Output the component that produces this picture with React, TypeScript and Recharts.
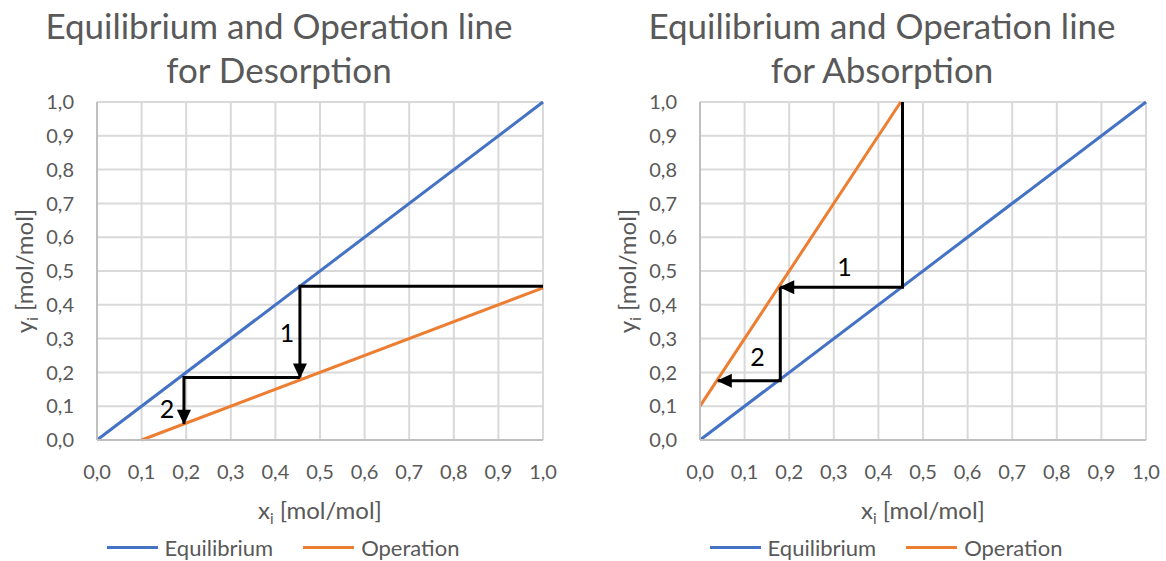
import {
  LineChart,
  Line,
  XAxis,
  YAxis,
  CartesianGrid,
  Legend,
  ReferenceDot,
} from "recharts";

// axis ticks shared by both diagrams (mole fractions)
const AXIS_TICKS = [0, 0.1, 0.2, 0.3, 0.4, 0.5, 0.6, 0.7, 0.8, 0.9, 1.0];

// equilibrium line y = x
const EQUILIBRIUM_X = [0, 1.0];
const EQUILIBRIUM_Y = [0, 1.0];

// desorption: operation line and the two stages
const DESORPTION_OP_X = [0.1, 1.0];
const DESORPTION_OP_Y = [0, 0.45];
const DESORPTION_STAGE1_X = [1.0, 0.455, 0.455];
const DESORPTION_STAGE1_Y = [0.455, 0.455, 0.185];
const DESORPTION_STAGE2_X = [0.455, 0.195, 0.195];
const DESORPTION_STAGE2_Y = [0.185, 0.185, 0.048];

// absorption: operation line and the two stages
const ABSORPTION_OP_X = [0, 0.45];
const ABSORPTION_OP_Y = [0.1, 1.0];
const ABSORPTION_STAGE1_X = [0.454, 0.454, 0.18];
const ABSORPTION_STAGE1_Y = [1.0, 0.452, 0.452];
const ABSORPTION_STAGE2_X = [0.18, 0.18, 0.04];
const ABSORPTION_STAGE2_Y = [0.452, 0.175, 0.175];

// stage numbers and where they sit (data units)
const STAGE_NAMES = ["1", "2"];
const DESORPTION_NAME_X = [0.426, 0.157];
const DESORPTION_NAME_Y = [0.317, 0.091];
const ABSORPTION_NAME_X = [0.324, 0.129];
const ABSORPTION_NAME_Y = [0.51, 0.246];

const BLUE = "#4472C4";
const ORANGE = "#ED7D31";
const GREY_TEXT = "#595959";
const FONT = "Lato, 'Open Sans', sans-serif";

type Pt = { x: number; y: number };
const zip = (xs: number[], ys: number[]): Pt[] => xs.map((x, i) => ({ x, y: ys[i] }));
const fmt = (v: number) => v.toFixed(1).replace(".", ",");

// arrow head drawn on the last point of a stage line
function arrowDot(dir: "down" | "left", last: number) {
  return (p: any) => {
    const { cx, cy, index } = p;
    if (index !== last) return <g key={`a${index}`} />;
    const pts =
      dir === "down"
        ? `${cx},${cy + 1} ${cx - 7},${cy - 14} ${cx + 7},${cy - 14}`
        : `${cx - 1},${cy} ${cx + 14},${cy - 7} ${cx + 14},${cy + 7}`;
    return <polygon key={`a${index}`} points={pts} fill="#000" />;
  };
}

const XLabel = (props: any) => {
  const { x, y, width } = props.viewBox;
  return (
    <text x={x + width / 2} y={y + 79} textAnchor="middle" fontSize={24} fill={GREY_TEXT}>
      x<tspan dy={5} fontSize={15}>i</tspan>
      <tspan dy={-5}> [mol/mol]</tspan>
    </text>
  );
};

const YLabel = (props: any) => {
  const { x, y, height } = props.viewBox;
  const cx = x - 4;
  const cy = y + height / 2;
  return (
    <text
      x={cx}
      y={cy}
      transform={`rotate(-90 ${cx} ${cy})`}
      textAnchor="middle"
      fontSize={24}
      fill={GREY_TEXT}
    >
      y<tspan dy={5} fontSize={15}>i</tspan>
      <tspan dy={-5}> [mol/mol]</tspan>
    </text>
  );
};

const renderLegend = (props: any) => (
  <div
    style={{
      display: "flex",
      justifyContent: "center",
      gap: 30,
      fontFamily: FONT,
      fontSize: 22,
      color: GREY_TEXT,
    }}
  >
    {(props.payload || [])
      .filter((e: any) => e.type !== "none")
      .map((e: any) => (
        <div key={e.value} style={{ display: "flex", alignItems: "center", gap: 7 }}>
          <span style={{ display: "inline-block", width: 51, height: 3, background: e.color }} />
          <span>{e.value}</span>
        </div>
      ))}
  </div>
);

function StageChart({
  left,
  width,
  title,
  operation,
  stage1,
  stage2,
  arrowDir,
  nameX,
  nameY,
}: {
  left: number;
  width: number;
  title: string;
  operation: Pt[];
  stage1: Pt[];
  stage2: Pt[];
  arrowDir: "down" | "left";
  nameX: number[];
  nameY: number[];
}) {
  return (
    <div style={{ position: "absolute", left, top: 0, width, height: 561 }}>
      <div
        style={{
          position: "absolute",
          left: 0,
          top: 3,
          width: 558,
          textAlign: "center",
          fontSize: 35,
          lineHeight: "44px",
          color: GREY_TEXT,
        }}
      >
        Equilibrium and Operation line
        <br />
        {title}
      </div>
      <LineChart
        width={width}
        height={561}
        margin={{ top: 102, right: width - 543, bottom: 0, left: 37 }}
        style={{ position: "absolute", left: 0, top: 0 }}
      >
        <CartesianGrid stroke="#d9d9d9" strokeWidth={2} />
        <XAxis
          type="number"
          dataKey="x"
          domain={[0, 1]}
          ticks={AXIS_TICKS}
          tickFormatter={fmt}
          tick={{ fontSize: 20, fill: GREY_TEXT }}
          tickLine={false}
          tickSize={0}
          tickMargin={25}
          axisLine={{ stroke: "#bfbfbf", strokeWidth: 2 }}
          height={121}
          label={<XLabel />}
        />
        <YAxis
          type="number"
          dataKey="y"
          domain={[0, 1]}
          ticks={AXIS_TICKS}
          tickFormatter={fmt}
          tick={{ fontSize: 20, fill: GREY_TEXT }}
          tickLine={false}
          tickSize={0}
          tickMargin={23}
          axisLine={{ stroke: "#bfbfbf", strokeWidth: 2 }}
          width={60}
          label={<YLabel />}
        />
        <Legend
          layout="horizontal"
          verticalAlign="middle"
          align="center"
          content={renderLegend}
          wrapperStyle={{ left: 0, top: 534, width: 566 }}
        />
        <Line
          data={zip(EQUILIBRIUM_X, EQUILIBRIUM_Y)}
          dataKey="y"
          name="Equilibrium"
          type="linear"
          stroke={BLUE}
          strokeWidth={3}
          dot={false}
          activeDot={false}
          isAnimationActive={false}
        />
        <Line
          data={operation}
          dataKey="y"
          name="Operation"
          type="linear"
          stroke={ORANGE}
          strokeWidth={3}
          dot={false}
          activeDot={false}
          isAnimationActive={false}
        />
        <Line
          data={stage1}
          dataKey="y"
          name="stage 1"
          legendType="none"
          type="linear"
          stroke="#000"
          strokeWidth={3}
          dot={arrowDot(arrowDir, stage1.length - 1)}
          activeDot={false}
          isAnimationActive={false}
        />
        <Line
          data={stage2}
          dataKey="y"
          name="stage 2"
          legendType="none"
          type="linear"
          stroke="#000"
          strokeWidth={3}
          dot={arrowDot(arrowDir, stage2.length - 1)}
          activeDot={false}
          isAnimationActive={false}
        />
        {STAGE_NAMES.map((s, i) => (
          <ReferenceDot
            key={s}
            x={nameX[i]}
            y={nameY[i]}
            r={0}
            fill="none"
            stroke="none"
            label={{ value: s, position: "center", fontSize: 25, fill: "#000" }}
          />
        ))}
      </LineChart>
    </div>
  );
}

export default function App() {
  return (
    <div
      style={{
        position: "absolute",
        left: 0,
        top: 0,
        width: 1166,
        height: 561,
        background: "#fff",
        fontFamily: FONT,
      }}
    >
      <StageChart
        left={0}
        width={583}
        title="for Desorption"
        operation={zip(DESORPTION_OP_X, DESORPTION_OP_Y)}
        stage1={zip(DESORPTION_STAGE1_X, DESORPTION_STAGE1_Y)}
        stage2={zip(DESORPTION_STAGE2_X, DESORPTION_STAGE2_Y)}
        arrowDir="down"
        nameX={DESORPTION_NAME_X}
        nameY={DESORPTION_NAME_Y}
      />
      <StageChart
        left={603}
        width={563}
        title="for Absorption"
        operation={zip(ABSORPTION_OP_X, ABSORPTION_OP_Y)}
        stage1={zip(ABSORPTION_STAGE1_X, ABSORPTION_STAGE1_Y)}
        stage2={zip(ABSORPTION_STAGE2_X, ABSORPTION_STAGE2_Y)}
        arrowDir="left"
        nameX={ABSORPTION_NAME_X}
        nameY={ABSORPTION_NAME_Y}
      />
    </div>
  );
}
